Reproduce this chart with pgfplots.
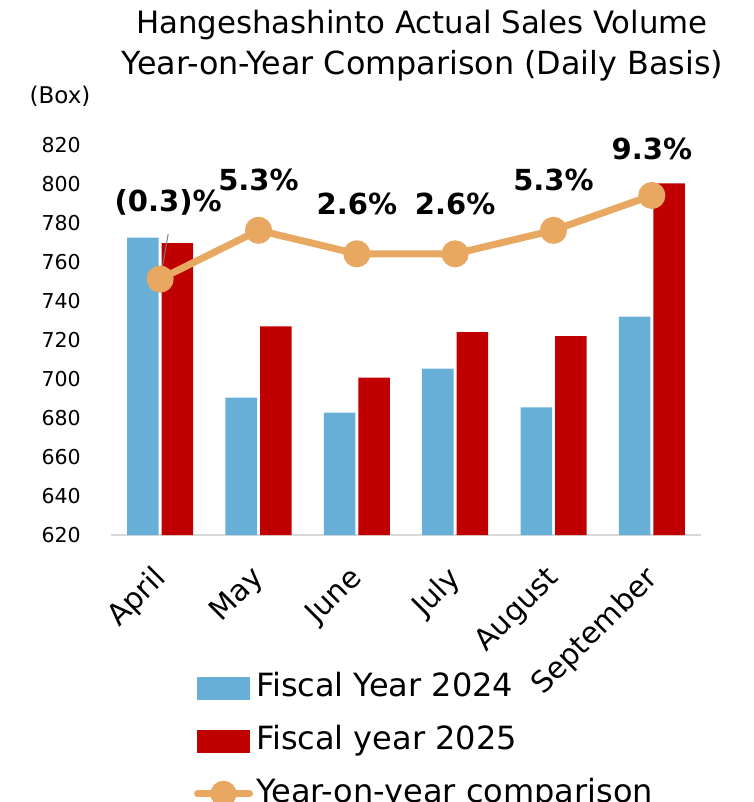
\documentclass[border=0pt]{standalone}
\usepackage{pgfplots}
\pgfplotsset{compat=1.18}
\usepackage{fontspec}
\setmainfont{DejaVu Sans}
\definecolor{fyblue}{HTML}{67AFD7}
\definecolor{fyred}{HTML}{C00000}
\definecolor{yoy}{HTML}{E8A862}
\definecolor{axgray}{HTML}{D9D9D9}
\begin{document}
\begin{tikzpicture}
\useasboundingbox (-111pt,-267pt) rectangle (642pt,535pt);
\begin{axis}[
  at={(0pt,0pt)}, anchor=south west,
  scale only axis, width=590pt, height=390pt,
  xmin=-0.5, xmax=5.5, ymin=620, ymax=820,
  ytick={620,640,...,820},
  xtick={0,...,5},
  xticklabels={April,May,June,July,August,September},
  axis x line*=bottom, axis y line*=left,
  x axis line style={draw=axgray, line width=1.5pt, -},
  y axis line style={draw=none},
  major tick length=0pt,
  ybar=3pt, bar width=31.5pt,
  /pgf/number format/assume math mode=true,
  yticklabel style={font=\fontsize{20.5}{24}\selectfont, inner sep=0pt, xshift=-30pt},
  xticklabel style={font=\fontsize{29.5}{34}\selectfont, inner sep=0pt, xshift=-9pt, yshift=-29pt, rotate=45, anchor=north east},
  clip=false,
]
\addplot[fill=fyblue, draw=none] coordinates {(0,772.5) (1,690.4) (2,682.7) (3,705.3) (4,685.4) (5,732.0)};
\addplot[fill=fyred, draw=none] coordinates {(0,769.7) (1,727.0) (2,700.7) (3,724.0) (4,722.0) (5,800.3)};
\end{axis}
\begin{axis}[
  at={(0pt,0pt)}, anchor=south west,
  scale only axis, width=590pt, height=390pt,
  xmin=-0.5, xmax=5.5, ymin=-29.7, ymax=15.1,
  hide axis, clip=false,
  legend style={draw=none, fill=none, inner sep=0pt, outer sep=0pt,
    at={(0.1407,-0.352)}, anchor=north west,
    font=\fontsize{32}{38}\selectfont,
    nodes={inner sep=0pt, text height=24pt, text depth=7pt},
    row sep=22pt, column sep=3pt},
  legend cell align=left,
]
\addlegendimage{legend image code/.code={\fill[fyblue] (0pt,-11pt) rectangle (52pt,11pt);}}
\addlegendentry{Fiscal Year 2024}
\addlegendimage{legend image code/.code={\fill[fyred] (0pt,-11pt) rectangle (52pt,11pt);}}
\addlegendentry{Fiscal year 2025}
\addplot[color=yoy, line width=7pt, mark=*, mark size=10pt, mark options={fill=yoy, draw=none},
  legend image code/.code={\draw[yoy, line width=7pt, line cap=round] (0pt,0pt) -- (52pt,0pt); \fill[yoy] (26pt,0pt) circle (9.5pt);}]
  coordinates {(0,-0.3) (1,5.3) (2,2.6) (3,2.6) (4,5.3) (5,9.3)};
\addlegendentry{Year-on-year comparison}
\draw[gray, line width=1pt] (axis cs:0,-0.3) ++(1pt,5pt) -- ++(7pt,40pt);
\begin{scope}[every node/.style={font=\bfseries\fontsize{29}{34}\selectfont, anchor=center}]
\node at (axis cs:0,-0.3) [xshift=8pt, yshift=77pt] {(0.3)\%};
\node at (axis cs:1,5.3) [yshift=50pt] {5.3\%};
\node at (axis cs:2,2.6) [yshift=50pt] {2.6\%};
\node at (axis cs:3,2.6) [yshift=50pt] {2.6\%};
\node at (axis cs:4,5.3) [yshift=50pt] {5.3\%};
\node at (axis cs:5,9.3) [yshift=47pt] {9.3\%};
\end{scope}
\end{axis}
\node[anchor=base, font=\fontsize{30.8}{37}\selectfont] at (311pt,501pt) {Hangeshashinto Actual Sales Volume};
\node[anchor=base, font=\fontsize{31.8}{37}\selectfont] at (311.5pt,460pt) {Year-on-Year Comparison (Daily Basis)};
\node[anchor=base, font=\fontsize{23}{27}\selectfont] at (-51pt,431pt) {(Box)};
\end{tikzpicture}
\end{document}
